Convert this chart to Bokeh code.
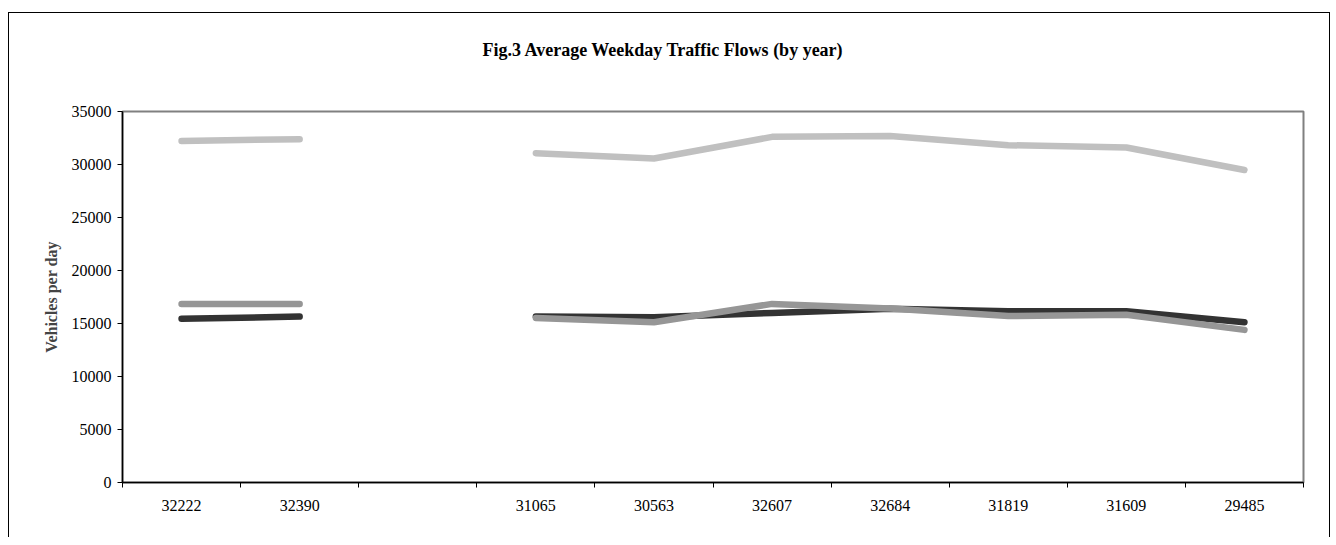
import numpy as np
from bokeh.plotting import figure
from bokeh.models import FixedTicker, LinearAxis, Range1d, Title
from bokeh.embed import file_html
from bokeh.resources import INLINE

# ---- data ----
categories = ["32222", "32390", "", "31065", "30563", "32607", "32684", "31819", "31609", "29485"]
series_light = [32222, 32390, np.nan, 31065, 30563, 32607, 32684, 31819, 31609, 29485]
series_mid = [16850, 16850, np.nan, 15530, 15120, 16850, 16420, 15700, 15820, 14400]
series_dark = [15450, 15650, np.nan, 15650, 15600, 16000, 16380, 16160, 16150, 15120]
y_ticks = [0, 5000, 10000, 15000, 20000, 25000, 30000, 35000]
title_text = "Fig.3  Average Weekday Traffic Flows (by year)"
y_label = "Vehicles per day"

FONT = "Liberation Serif"
xs = [i + 0.5 for i in range(len(categories))]

p = figure(
    frame_width=1181, frame_height=371,
    min_border_left=113, min_border_right=26, min_border_top=98, min_border_bottom=55,
    x_range=Range1d(0, len(categories)), y_range=Range1d(0, 35000),
    output_backend="svg", toolbar_location=None, tools="",
    x_axis_type=None, y_axis_type=None,
)
p.styles = {"margin-top": "12px", "margin-left": "8px",
            "border-top": "1px solid black",
            "border-left": "1px solid black", "border-right": "1px solid black"}

p.outline_line_color = "#808080"
p.outline_line_width = 2
p.background_fill_color = "white"
p.border_fill_color = "white"

# spacer between frame and title, then the title itself
spacer = Title(text=" ", text_font_size="2px", standoff=48)
p.add_layout(spacer, "above")
main_title = Title(text=title_text, align="left", offset=360, standoff=0,
                   text_font=FONT, text_font_size="18px", text_font_style="bold",
                   text_color="black")
p.add_layout(main_title, "above")

# y axis
yax = LinearAxis(ticker=FixedTicker(ticks=y_ticks, minor_ticks=[]))
yax.axis_label = y_label
yax.axis_label_text_font = FONT
yax.axis_label_text_font_size = "16px"
yax.axis_label_text_font_style = "bold"
yax.axis_label_standoff = 9
yax.major_label_text_font = FONT
yax.major_label_text_font_size = "16px"
yax.major_label_text_color = "black"
yax.major_label_standoff = 6
yax.axis_line_color = "black"
yax.axis_line_width = 1.5
yax.major_tick_out = 5
yax.major_tick_in = 0
yax.major_tick_line_color = "black"
p.add_layout(yax, "left")

# x axis: labels at centres, ticks at slot boundaries (minor ticks)
label_pos = [x for x, c in zip(xs, categories) if c]
xax = LinearAxis(ticker=FixedTicker(ticks=label_pos,
                                    minor_ticks=list(range(len(categories) + 1))))
xax.major_label_overrides = {x: c for x, c in zip(xs, categories) if c}
xax.major_label_text_font = FONT
xax.major_label_text_font_size = "16px"
xax.major_label_text_color = "black"
xax.major_label_standoff = 12
xax.major_tick_out = 0
xax.major_tick_in = 0
xax.minor_tick_out = 5
xax.minor_tick_in = 0
xax.minor_tick_line_color = "black"
xax.axis_line_color = "black"
xax.axis_line_width = 1.5
p.add_layout(xax, "below")

# grid
p.ygrid.ticker = FixedTicker(ticks=y_ticks[1:-1])
p.ygrid.grid_line_color = "#505050"
p.ygrid.grid_line_dash = "7 4"
p.ygrid.grid_line_width = 1
p.xgrid.visible = False

lw = 6.5
p.line(xs, series_light, line_color="#C0C0C0", line_width=lw, line_cap="round", line_join="round")
p.line(xs, series_dark, line_color="#333333", line_width=lw, line_cap="round", line_join="round")
p.line(xs, series_mid, line_color="#969696", line_width=lw, line_cap="round", line_join="round")

open("out.html", "w").write(file_html(p, INLINE))
